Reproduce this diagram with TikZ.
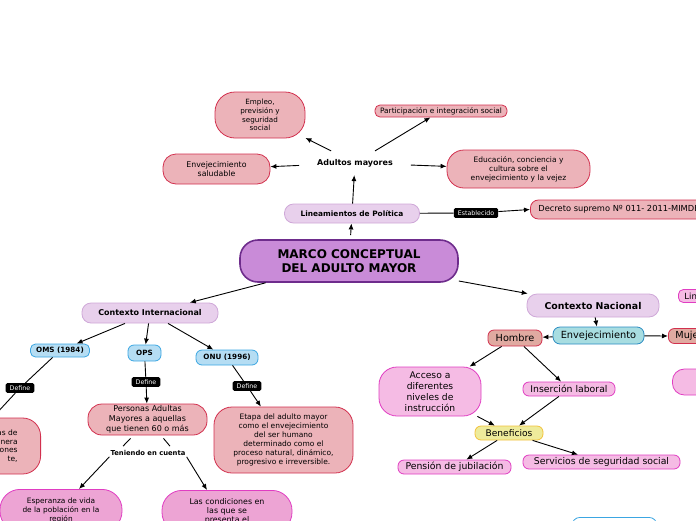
\documentclass[tikz,border=0pt]{standalone}
\usepackage{fontspec}
\setmainfont{DejaVu Sans}
\usetikzlibrary{arrows.meta,positioning}
\definecolor{maincol}{HTML}{C98BD8}
\definecolor{mainline}{HTML}{6E2C8C}
\definecolor{lavcol}{HTML}{E8D0EC}
\definecolor{lavline}{HTML}{CFA8D8}
\definecolor{redcol}{HTML}{ECB3B9}
\definecolor{redline}{HTML}{D2304E}
\definecolor{bluecol}{HTML}{B5DDF3}
\definecolor{blueline}{HTML}{3BA6E2}
\definecolor{magcol}{HTML}{EDA4D4}
\definecolor{magline}{HTML}{E03DC2}
\definecolor{pinkcol}{HTML}{F5BBE4}
\definecolor{tealcol}{HTML}{A8DDE1}
\definecolor{tealline}{HTML}{2B8CC2}
\definecolor{salmoncol}{HTML}{E0AAA1}
\definecolor{yelcol}{HTML}{EEEB9B}
\definecolor{yelline}{HTML}{F2C23C}
\newcommand{\fsz}[2]{\fontsize{#1}{#2}\selectfont}
\tikzset{
	concept/.style={draw, align=center, inner sep=0pt, line width=0.8pt},
	mainbox/.style={concept, fill=maincol, draw=mainline, line width=1.6pt, minimum width=218pt, minimum height=42pt, rounded corners=18pt, font=\bfseries\fsz{12}{14}},
	lavbox/.style={concept, fill=lavcol, draw=lavline},
	redbox/.style={concept, fill=redcol, draw=redline},
	bluebox/.style={concept, fill=bluecol, draw=blueline, font=\bfseries\fsz{7.2}{8}},
	magbox/.style={concept, fill=magcol, draw=magline},
	pinkbox/.style={concept, fill=pinkcol, draw=magline},
	tealbox/.style={concept, fill=tealcol, draw=tealline},
	salmonbox/.style={concept, fill=salmoncol, draw=redline},
	yelbox/.style={concept, fill=yelcol, draw=yelline},
	plainlabel/.style={font=\bfseries\fsz{8}{9}, inner xsep=18pt, inner ysep=8pt},
	tag/.style={fill=black, text=white, rounded corners=1.5pt, inner xsep=4pt, inner ysep=2.5pt, font=\fsz{6.3}{7}},
	link/.style={-{Latex[length=6pt,width=5pt]}, line width=0.9pt},
	plainlink/.style={line width=0.9pt}
}

\begin{document}
\begin{tikzpicture}[x=1pt,y=-1pt]
	\useasboundingbox (0,0) rectangle (696,520);
	\clip (0,0) rectangle (696,520);

	\node[mainbox] (marco) at (349,261) {MARCO CONCEPTUAL\\ DEL ADULTO MAYOR};

	% politica
	\node[lavbox, minimum width=135pt, minimum height=19pt, rounded corners=9pt, font=\bfseries\fsz{7.4}{8}] (lineam) at (352,213.5) {Lineamientos de Política};
	\node[plainlabel] (adultos) at (355,163) {Adultos mayores};
	\node[redbox, minimum width=90pt, minimum height=46pt, rounded corners=20pt, font=\fsz{7.2}{8.8}] (empleo) at (260,115) {Empleo,\\previsión y\\seguridad\\social};
	\node[redbox, minimum width=107pt, minimum height=30pt, rounded corners=13pt, font=\fsz{7.8}{9.2}] (saludable) at (216.5,169) {Envejecimiento\\saludable};
	\node[redbox, minimum width=132pt, minimum height=12pt, rounded corners=5pt, font=\fsz{7.4}{8}] (particip) at (441,111) {Participación e integración social};
	\node[redbox, minimum width=143pt, minimum height=38pt, rounded corners=17pt, font=\fsz{7.5}{9}] (educa) at (518.5,169) {Educación, conciencia y\\cultura sobre el\\envejecimiento y la vejez};
	\node[redbox, anchor=west, minimum height=19pt, rounded corners=8pt, inner xsep=8pt, font=\fsz{8.3}{9}] (decreto) at (530,209.5) {Decreto supremo Nº 011- 2011-MIMDES};
	\node[tag] (establ) at (476,213) {Establecido};

	\draw[link, shorten <=4pt] (marco) -- (lineam);
	\draw[link] (lineam) -- (adultos);
	\draw[link] (adultos) -- (empleo);
	\draw[link] (adultos) -- (saludable);
	\draw[link] (adultos) -- (particip);
	\draw[link] (adultos) -- (educa);
	\draw[plainlink] (lineam) -- (establ);
	\draw[link] (establ) -- (decreto.west);

	% contexto internacional
	\node[lavbox, minimum width=136pt, minimum height=20pt, rounded corners=9pt, font=\bfseries\fsz{8}{9}] (contint) at (150,313) {Contexto Internacional};
	\node[bluebox, minimum width=59pt, minimum height=13pt, rounded corners=5pt] (oms) at (60,350.5) {OMS (1984)};
	\node[bluebox, minimum width=33pt, minimum height=16pt, rounded corners=6pt] (ops) at (144.5,353) {OPS};
	\node[bluebox, minimum width=62pt, minimum height=15pt, rounded corners=6pt] (onu) at (227,357.5) {ONU (1996)};
	\node[tag] (tagoms) at (20,388) {Define};
	\node[tag] (tagops) at (146,382) {Define};
	\node[tag] (tagonu) at (247,386) {Define};
	\node[redbox, anchor=east, text width=50pt, align=right, minimum height=56pt, rounded corners=18pt, inner xsep=23pt, font=\fsz{7.5}{8.7}] (omsdef) at (41,446) {as de\\nera\\ones\\te,};
	\node[redbox, minimum width=119pt, minimum height=31pt, rounded corners=14pt, font=\fsz{8}{10}] (pers) at (147.5,419.5) {Personas Adultas\\Mayores a aquellas\\que tienen 60 o más};
	\node[redbox, minimum width=139pt, minimum height=66pt, rounded corners=18pt, font=\fsz{7.5}{9}] (etapa) at (283.5,440) {Etapa del adulto mayor\\como el envejecimiento\\del ser humano\\determinado como el\\proceso natural, dinámico,\\progresivo e irreversible.};
	\node[font=\bfseries\fsz{6.8}{8}, inner sep=1pt] (ten) at (148,453) {Teniendo en cuenta};
	\node[magbox, anchor=north, minimum width=122pt, minimum height=42pt, rounded corners=20pt, font=\fsz{7.4}{9.2}] (esp) at (61,489) {Esperanza de vida\\de la población en la\\región};
	\node[magbox, anchor=north, minimum width=130pt, minimum height=42pt, rounded corners=20pt, font=\fsz{7.9}{8.8}] (cond) at (227,490) {Las condiciones en\\las que se\\presenta el};

	\draw[link] (marco) -- (contint);
	\draw[link] (contint) -- (oms);
	\draw[link] (contint) -- (ops);
	\draw[link] (contint) -- (onu);
	\draw[plainlink] (oms) -- (tagoms);
	\draw[link] (tagoms) -- (omsdef.north);
	\draw[plainlink] (ops) -- (tagops);
	\draw[link] (tagops) -- (pers);
	\draw[plainlink] (onu) -- (tagonu);
	\draw[link] (tagonu) -- (etapa);
	\draw[plainlink] ([xshift=-17pt,yshift=-3pt]pers.south) -- ([xshift=-25pt,yshift=3pt]ten.north);
	\draw[plainlink] ([xshift=16pt,yshift=-3pt]pers.south) -- ([xshift=22pt,yshift=3pt]ten.north);
	\draw[link] (ten.south west) -- ([xshift=18pt]esp.north);
	\draw[link] (ten.south east) -- ([xshift=-20pt]cond.north);

	% contexto nacional
	\node[lavbox, minimum width=132pt, minimum height=23pt, rounded corners=10pt, font=\bfseries\fsz{9.4}{10}] (contnac) at (593,305.5) {Contexto Nacional};
	\node[tealbox, minimum width=91pt, minimum height=17pt, rounded corners=7pt, font=\fsz{9.8}{11}] (envej) at (598.5,335.5) {Envejecimiento};
	\node[salmonbox, minimum width=54pt, minimum height=16pt, rounded corners=6pt, font=\fsz{9.7}{11}] (hombre) at (515,338) {Hombre};
	\node[salmonbox, anchor=west, text width=40pt, align=left, minimum height=15pt, rounded corners=6pt, inner xsep=7pt, font=\fsz{9.7}{11}] (mujer) at (668,336) {Mujer};
	\node[pinkbox, anchor=west, text width=40pt, align=left, minimum height=13pt, rounded corners=5pt, inner xsep=6pt, font=\fsz{8.5}{9}] (limite) at (678,296) {Lin};
	\node[pinkbox, anchor=west, minimum width=60pt, minimum height=26pt, rounded corners=12pt] (mujerrama) at (672,382) {};
	\node[concept, draw=blueline, fill=white, anchor=north, minimum width=85pt, minimum height=20pt, rounded corners=8pt] (nacrama) at (614.5,517) {};
	\node[pinkbox, minimum width=102pt, minimum height=49pt, rounded corners=18pt, font=\fsz{9.2}{11}] (acceso) at (430,391.5) {Acceso a\\diferentes\\niveles de\\instrucción};
	\node[pinkbox, minimum width=92pt, minimum height=14pt, rounded corners=6pt, font=\fsz{9.3}{10}] (insercion) at (569,389) {Inserción laboral};
	\node[yelbox, minimum width=68pt, minimum height=14pt, rounded corners=6pt, font=\fsz{9.1}{10}] (benef) at (509,433) {Beneficios};
	\node[pinkbox, minimum width=113pt, minimum height=14pt, rounded corners=6pt, font=\fsz{9.3}{10}] (pension) at (454.5,467) {Pensión de jubilación};
	\node[pinkbox, minimum width=157pt, minimum height=14pt, rounded corners=6pt, font=\fsz{9.3}{10}] (servicios) at (601.5,462) {Servicios de seguridad social};

	\draw[link] (marco) -- (contnac);
	\draw[link] (contnac) -- (envej);
	\draw[link] (envej) -- (hombre);
	\draw[link] (envej) -- (mujer.west);
	\draw[link] (hombre) -- (acceso);
	\draw[link] (hombre) -- (insercion);
	\draw[link] (acceso) -- (benef);
	\draw[link] (insercion) -- (benef);
	\draw[link] (benef) -- (pension);
	\draw[link] (benef) -- (servicios);
\end{tikzpicture}
\end{document}
